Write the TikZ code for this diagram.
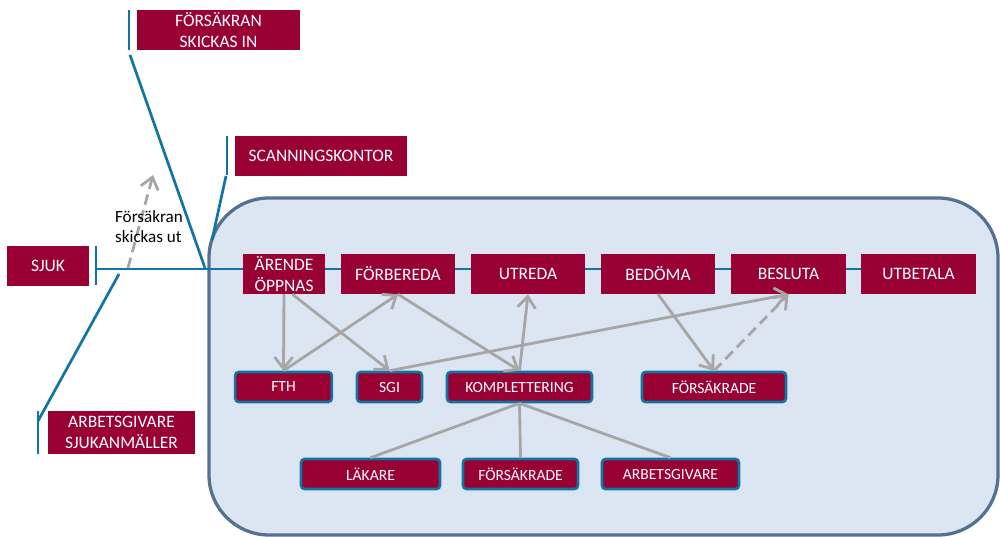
\documentclass[tikz,border=0pt]{standalone}
\usepackage{fontspec}
\setmainfont{Carlito}
\usetikzlibrary{arrows.meta}
\definecolor{wine}{RGB}{153,0,51}
\definecolor{lineblue}{RGB}{16,117,163}
\definecolor{panel}{RGB}{220,230,242}
\definecolor{panelrim}{RGB}{84,113,146}
\definecolor{arrowgray}{RGB}{166,166,166}
\tikzset{
  box/.style={fill=wine, text=white, inner sep=0pt, minimum height=1.2cm, align=center,
    font=\fontsize{14.9}{17.5}\selectfont},
  subbox/.style={fill=wine, text=white, draw=lineblue, line width=2.2pt, rounded corners=3pt,
    inner sep=0pt, minimum height=0.9cm, font=\fontsize{13.3}{15}\selectfont},
  bar/.style={draw=lineblue, line width=2.3pt},
  flow/.style={draw=arrowgray, line width=2.4pt, ->, >={Straight Barb[length=3.4mm,width=5.4mm]}},
}
\begin{document}
\begin{tikzpicture}[x=0.03cm, y=-0.03cm]
        \useasboundingbox (0,0) rectangle (1000,537);
        \draw[fill=panel, draw=panelrim, line width=2.8pt, rounded corners=1.8cm] (209,198) rectangle (998,535);

        \node[box, minimum width=4.89cm] (in) at (218.5,30) {FÖRSÄKRAN\\SKICKAS IN};
        \node[box, minimum width=5.16cm] (scan) at (321,156) {SCANNINGSKONTOR};
        \node[box, minimum width=2.46cm] (sjuk) at (48,266) {SJUK};
        \node[box, minimum width=4.41cm, minimum height=1.29cm] (agsjuk) at (121.5,432.5) {ARBETSGIVARE\\SJUKANMÄLLER};

        \coordinate (inA) at (129,10);
        \coordinate (inB) at (129,50);
        \coordinate (scanA) at (227,136);
        \coordinate (scanB) at (227,175);
        \coordinate (sjukA) at (96,246);
        \coordinate (sjukB) at (96,285);
        \coordinate (agA) at (38,411);
        \coordinate (agB) at (38,454);
        \coordinate (inFoot) at (205,268);
        \coordinate (scanFoot) at (212,240);
        \coordinate (sjukStart) at (97,269);
        \coordinate (lineEnd) at (862,269);
        \coordinate (agFoot) at (119,274);
        \coordinate (utA) at (128,268);
        \coordinate (utB) at (153,175);

        \draw[bar] (inA) -- (inB);
        \draw[bar] (scanA) -- (scanB);
        \draw[bar] (sjukA) -- (sjukB);
        \draw[bar] (agA) -- (agB);
        \draw[bar] (130,55) -- (inFoot);
        \draw[bar] (226,176) -- (scanFoot);
        \draw[bar] (sjukStart) -- (lineEnd);
        \draw[bar] (38,421) -- (agFoot);

        \draw[flow, dashed, dash pattern=on 9pt off 5pt] (utA) -- (utB);
        \node[font=\fontsize{14.6}{17}\selectfont, align=left] (ut) at (149,227) {Försäkran\\skickas ut};

        \node[box, minimum width=2.46cm] (arende) at (284,274) {ÄRENDE\\ÖPPNAS};
        \node[box, minimum width=3.42cm] (forbereda) at (398,274) {FÖRBEREDA};
        \node[box, minimum width=3.42cm] (utreda) at (528,274) {UTREDA};
        \node[box, minimum width=3.42cm] (bedoma) at (658,274) {BEDÖMA};
        \node[box, minimum width=3.45cm] (besluta) at (788.5,274) {BESLUTA};
        \node[box, minimum width=3.45cm] (utbetala) at (918.5,274) {UTBETALA};

        \node[subbox, minimum width=2.9cm] (fth) at (283.5,387) {FTH};
        \node[subbox, minimum width=1.95cm] (sgi) at (389.5,387) {SGI};
        \node[subbox, minimum width=4.35cm] (kompl) at (519.5,387) {KOMPLETTERING};
        \node[subbox, minimum width=4.32cm] (forsakrade) at (714,387) {FÖRSÄKRADE};

        \node[subbox, minimum width=4.17cm] (lakare) at (370.5,474) {LÄKARE};
        \node[subbox, minimum width=3.45cm] (forsakrade2) at (520.5,474) {FÖRSÄKRADE};
        \node[subbox, minimum width=4.11cm] (arbetsgivare) at (670.5,474) {ARBETSGIVARE};

        \draw[flow] (arende.south) -- (fth.north);
        \draw[flow] (fth.north) -- (forbereda.south);
        \draw[flow] ([xshift=0.25cm]arende.south) -- (sgi.north);
        \draw[flow] (forbereda.south) -- (kompl.north);
        \draw[flow] (kompl.north) -- (utreda.south);
        \draw[flow] (sgi.north) -- (besluta.south);
        \draw[flow] (bedoma.south) -- (forsakrade.north);
        \draw[flow, dash pattern=on 9pt off 5pt] (forsakrade.north) -- (besluta.south);

        \draw[flow, -] (kompl.south) -- (lakare.north);
        \draw[flow, -] (kompl.south) -- (forsakrade2.north);
        \draw[flow, -] (kompl.south) -- (arbetsgivare.north);
      \end{tikzpicture}
\end{document}
